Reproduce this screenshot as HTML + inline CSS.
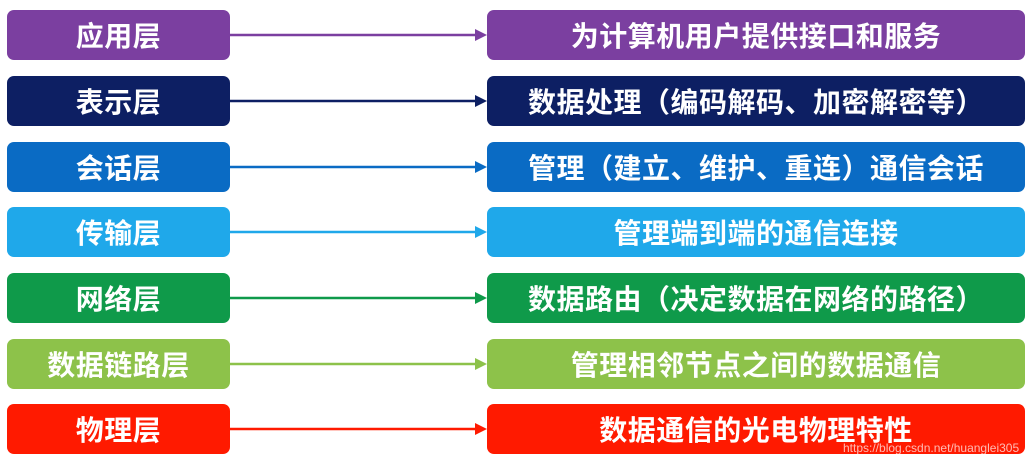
<!DOCTYPE html>
<html><head><meta charset="utf-8"><style>
body{margin:0;width:1033px;height:460px;background:#fff;position:relative;overflow:hidden;font-family:"Liberation Sans","Noto Sans CJK SC",sans-serif}
.b{position:absolute;height:50px;border-radius:7px;color:#fff;font-weight:bold;font-size:28px;display:flex;align-items:center;justify-content:center;letter-spacing:0.5px}
.l{left:7px;width:223px}
.r{left:487px;width:538px}
svg{position:absolute;left:0;top:0}
.wm{position:absolute;left:843px;top:441px;font-size:12px;color:rgba(255,255,255,0.7);font-weight:normal}
</style></head><body>
<svg width="1033" height="460">
<g stroke-width="2.5">
<line x1="230" y1="35" x2="478" y2="35" stroke="#7b3fa0"/><polygon points="475,29 487,35 475,41" fill="#7b3fa0"/>
<line x1="230" y1="101" x2="478" y2="101" stroke="#0d1f63"/><polygon points="475,95 487,101 475,107" fill="#0d1f63"/>
<line x1="230" y1="167" x2="478" y2="167" stroke="#0a6bc4"/><polygon points="475,161 487,167 475,173" fill="#0a6bc4"/>
<line x1="230" y1="232" x2="478" y2="232" stroke="#1fa8ea"/><polygon points="475,226 487,232 475,238" fill="#1fa8ea"/>
<line x1="230" y1="298" x2="478" y2="298" stroke="#0f9a4a"/><polygon points="475,292 487,298 475,304" fill="#0f9a4a"/>
<line x1="230" y1="364" x2="478" y2="364" stroke="#8dc24a"/><polygon points="475,358 487,364 475,370" fill="#8dc24a"/>
<line x1="230" y1="429" x2="478" y2="429" stroke="#ff1a00"/><polygon points="475,423 487,429 475,435" fill="#ff1a00"/>
</g></svg>
<div class="b l" style="top:10px;background:#7b3fa0">应用层</div>
<div class="b r" style="top:10px;background:#7b3fa0">为计算机用户提供接口和服务</div>
<div class="b l" style="top:76px;background:#0d1f63">表示层</div>
<div class="b r" style="top:76px;background:#0d1f63">数据处理（编码解码、加密解密等）</div>
<div class="b l" style="top:142px;background:#0a6bc4">会话层</div>
<div class="b r" style="top:142px;background:#0a6bc4">管理（建立、维护、重连）通信会话</div>
<div class="b l" style="top:207px;background:#1fa8ea">传输层</div>
<div class="b r" style="top:207px;background:#1fa8ea">管理端到端的通信连接</div>
<div class="b l" style="top:273px;background:#0f9a4a">网络层</div>
<div class="b r" style="top:273px;background:#0f9a4a">数据路由（决定数据在网络的路径）</div>
<div class="b l" style="top:339px;background:#8dc24a">数据链路层</div>
<div class="b r" style="top:339px;background:#8dc24a">管理相邻节点之间的数据通信</div>
<div class="b l" style="top:404px;background:#ff1a00">物理层</div>
<div class="b r" style="top:404px;background:#ff1a00">数据通信的光电物理特性</div>
<div class="wm">https://blog.csdn.net/huanglei305</div>
</body></html>
